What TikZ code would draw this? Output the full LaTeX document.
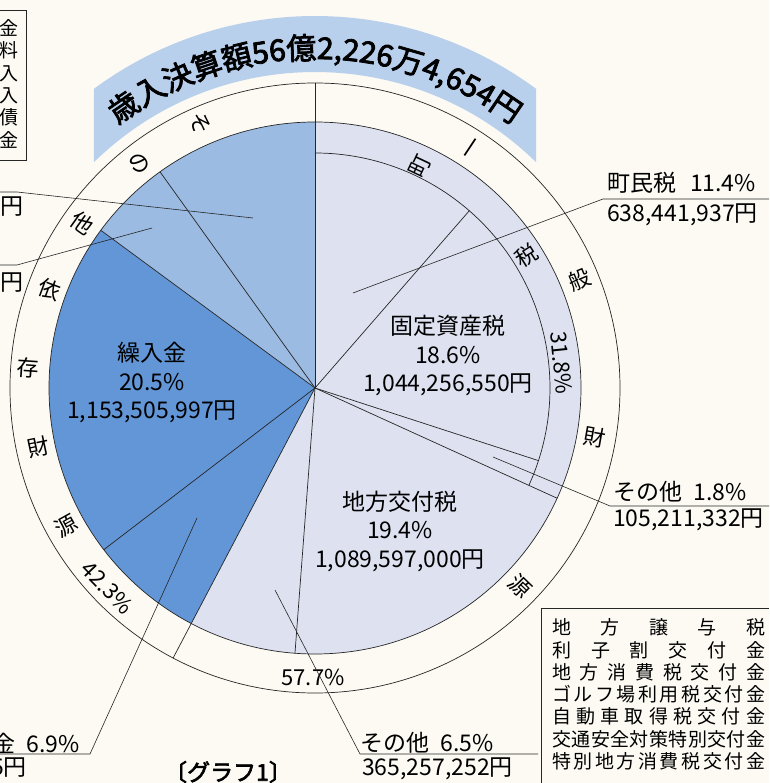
\documentclass[tikz,border=0pt]{standalone}
\usepackage{fontspec}
\setmainfont{Noto Sans CJK JP}
\newfontfamily\titlefont[FakeBold=2.6]{Noto Sans CJK JP}
\usepackage{tikz}
\usetikzlibrary{positioning,calc,decorations.text}
\definecolor{PAPER}{RGB}{252,250,243}
\definecolor{GENERAL}{RGB}{222,226,240}
\definecolor{OTHERDEP}{RGB}{155,187,226}
\definecolor{TRANSFER}{RGB}{98,150,215}
\definecolor{TITLEBAND}{RGB}{185,208,236}
\tikzstyle{LINE} = [draw, line width=0.7pt, black!85]
\tikzstyle{LEADER} = [draw, line width=0.6pt, black!85]
\tikzstyle{RING_CHAR} = [font=\fontsize{22}{22}\selectfont, inner sep=0pt]
\tikzstyle{SLICE_TEXT} = [align=center, font=\fontsize{23}{28.5}\selectfont, inner sep=0pt]
\tikzstyle{LABEL_TEXT} = [anchor=west, font=\fontsize{23}{23}\selectfont, inner sep=0pt]
\tikzstyle{BOX_TEXT} = [font=\fontsize{19}{22.3}\selectfont, inner sep=0pt]

\begin{document}
\begin{tikzpicture}[x=1pt, y=1pt]
% Define
\useasboundingbox (-315,-395) rectangle (454,388);
\fill[PAPER] (-315,-395) rectangle (454,388);
\coordinate (CENTER) at (0,0);
% Title band
\fill[TITLEBAND] (126.45:372) arc[start angle=126.45, end angle=53.55, radius=372]
  -- (45.62:316) arc[start angle=45.62, end angle=134.38, radius=316] -- cycle;
\path[decorate, decoration={text along path, text align=center,
  text={|\titlefont\fontsize{30}{30}\selectfont|歳入決算額56億2,226万4,654円}}]
  (140:329) arc[start angle=140, end angle=40, radius=329];
% Slices
\fill[GENERAL] (CENTER) -- (90:266) arc[start angle=90, end angle=-117.72, radius=266] -- cycle;
\fill[TRANSFER] (CENTER) -- (-117.72:266) arc[start angle=-117.72, end angle=-216.36, radius=266] -- cycle;
\fill[OTHERDEP] (CENTER) -- (-216.36:266) arc[start angle=-216.36, end angle=-270, radius=266] -- cycle;
\draw[LINE] (CENTER) circle[radius=266];
\draw[LINE] (CENTER) circle[radius=305];
\draw[LINE] (90:235) arc[start angle=90, end angle=-24.48, radius=235];
% Dividers
\draw[LINE] (CENTER) -- (90:305);
\draw[LINE] (CENTER) -- (48.96:235);
\draw[LINE] (CENTER) -- (-18:235);
\draw[LINE] (CENTER) -- (-24.48:266);
\draw[LINE] (CENTER) -- (-94.32:266);
\draw[LINE] (CENTER) -- (-117.72:305);
\draw[LINE] (CENTER) -- (-142.56:266);
\draw[LINE] (CENTER) -- (143.64:266);
\draw[LINE] (CENTER) -- (125.64:266);
% Place node
\node [SLICE_TEXT] (FIXED_ASSET) at (133,32) {固定資産税\\18.6\%\\1,044,256,550円};
\node [SLICE_TEXT] (TRANSFER_IN) at (-163,5) {繰入金\\20.5\%\\1,153,505,997円};
\node [SLICE_TEXT] (LOCAL_ALLOC) at (85,-143) {地方交付税\\19.4\%\\1,089,597,000円};
% ring texts
\node [RING_CHAR, rotate=64.6] (BAND_1) at (64.6:246) {町};
\node [RING_CHAR, rotate=32] (BAND_2) at (32:249) {税};
\node [RING_CHAR, rotate=-84.2] (BAND_3) at (5.8:248) {31.8\%};
\node [RING_CHAR, rotate=56.4] (GEN_1) at (56.4:286) {一};
\node [RING_CHAR, rotate=22.2] (GEN_2) at (22.2:286) {般};
\node [RING_CHAR, rotate=-10] (GEN_3) at (-10:284) {財};
\node [RING_CHAR, rotate=-44] (GEN_4) at (-44:285) {源};
\node [RING_CHAR] (GEN_5) at (-90.4:289) {57.7\%};
\node [RING_CHAR, rotate=-66.5] (DEP_1) at (113.5:289) {そ};
\node [RING_CHAR, rotate=-52] (DEP_2) at (128:285) {の};
\node [RING_CHAR, rotate=-35.4] (DEP_3) at (144.6:285) {他};
\node [RING_CHAR, rotate=-20.3] (DEP_4) at (159.7:283) {依};
\node [RING_CHAR, rotate=-4] (DEP_5) at (176:288) {存};
\node [RING_CHAR, rotate=12] (DEP_6) at (192:283) {財};
\node [RING_CHAR, rotate=29] (DEP_7) at (209:285) {源};
\node [RING_CHAR, rotate=-46] (DEP_8) at (223.9:288) {42.3\%};
% outside labels
\node [LABEL_TEXT] (TOWN_TAX) at (292,205) {町民税\hspace{0.6em}11.4\%};
\node [LABEL_TEXT] (TOWN_TAX_YEN) at (292,173) {638,441,937円};
\node [LABEL_TEXT] (TAX_OTHER) at (298,-104) {その他\hspace{0.5em}1.8\%};
\node [LABEL_TEXT] (TAX_OTHER_YEN) at (298,-132) {105,211,332円};
\node [LABEL_TEXT] (GEN_OTHER) at (45,-355) {その他\hspace{0.5em}6.5\%};
\node [LABEL_TEXT] (GEN_OTHER_YEN) at (47,-381) {365,257,252円};
\node [LABEL_TEXT, anchor=east] (DEP_SMALL) at (-235,-355) {金\hspace{0.5em}6.9\%};
\node [LABEL_TEXT, anchor=east] (DEP_SMALL_YEN) at (-288,-380) {5円};
\node [LABEL_TEXT] (UL_YEN_1) at (-315,181) {円};
\node [LABEL_TEXT] (UL_YEN_2) at (-315,105) {円};
\node [font=\titlefont\fontsize{23}{23}\selectfont, inner sep=0pt] (CAPTION) at (-87,-384) {〔グラフ1〕};
% list boxes
\draw[LINE] (454,-220) -- (226,-220) -- (226,-395);
\node [BOX_TEXT, anchor=north west, text width=213pt, align=left] (GEN_LIST) at (237,-230.5)
  {地\hfill 方\hfill 譲\hfill 与\hfill 税\\
   利\hfill 子\hfill 割\hfill 交\hfill 付\hfill 金\\
   地\hfill 方\hfill 消\hfill 費\hfill 税\hfill 交\hfill 付\hfill 金\\
   ゴ\hfill ル\hfill フ\hfill 場\hfill 利\hfill 用\hfill 税\hfill 交\hfill 付\hfill 金\\
   自\hfill 動\hfill 車\hfill 取\hfill 得\hfill 税\hfill 交\hfill 付\hfill 金\\
   交\hfill 通\hfill 安\hfill 全\hfill 対\hfill 策\hfill 特\hfill 別\hfill 交\hfill 付\hfill 金\\
   特\hfill 別\hfill 地\hfill 方\hfill 消\hfill 費\hfill 税\hfill 交\hfill 付\hfill 金};
\draw[LINE] (-315,378) -- (-289,378) -- (-289,228) -- (-315,228);
\node [BOX_TEXT, anchor=north east, align=right] (DEP_LIST) at (-296,368.5)
  {金\\料\\入\\入\\債\\金};
% LINES
\coordinate (L_TOWN_1) at (38,95);
\coordinate (L_TOWN_2) at (288,189);
\coordinate (L_TOWN_3) at (454,189);
\coordinate (L_TAXO_1) at (178,-69);
\coordinate (L_TAXO_2) at (295,-118);
\coordinate (L_TAXO_3) at (454,-118);
\coordinate (L_GENO_1) at (-40,-202);
\coordinate (L_GENO_2) at (45,-366);
\coordinate (L_GENO_3) at (223,-366);
\coordinate (L_DEPS_1) at (-118,-130);
\coordinate (L_DEPS_2) at (-225,-366);
\coordinate (L_DEPS_3) at (-315,-366);
\coordinate (L_UL1_1) at (-62,170);
\coordinate (L_UL1_2) at (-298,196);
\coordinate (L_UL1_3) at (-315,196);
\coordinate (L_UL2_1) at (-163,160);
\coordinate (L_UL2_2) at (-298,123);
\coordinate (L_UL2_3) at (-315,123);
\path [LEADER] (L_TOWN_1) -- (L_TOWN_2) -- (L_TOWN_3);
\path [LEADER] (L_TAXO_1) -- (L_TAXO_2) -- (L_TAXO_3);
\path [LEADER] (L_GENO_1) -- (L_GENO_2) -- (L_GENO_3);
\path [LEADER] (L_DEPS_1) -- (L_DEPS_2) -- (L_DEPS_3);
\path [LEADER] (L_UL1_1) -- (L_UL1_2) -- (L_UL1_3);
\path [LEADER] (L_UL2_1) -- (L_UL2_2) -- (L_UL2_3);
\end{tikzpicture}
\end{document}
